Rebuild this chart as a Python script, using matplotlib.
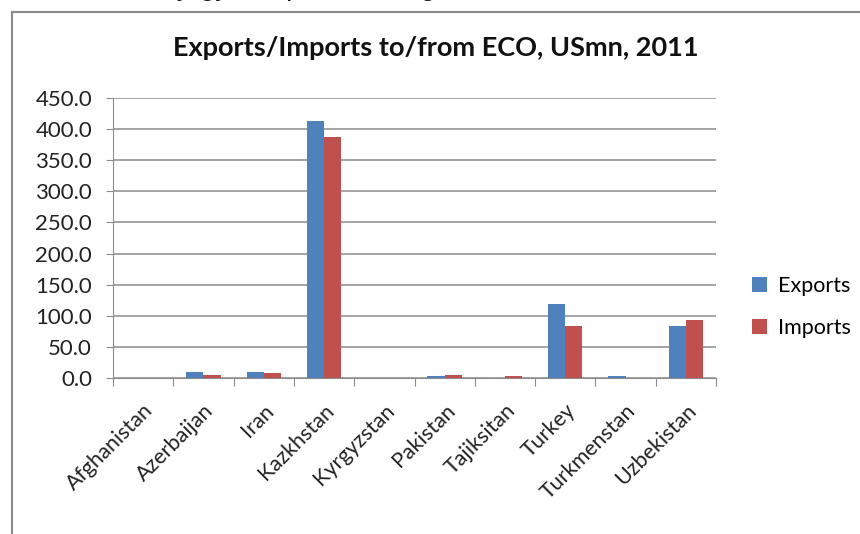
import matplotlib
matplotlib.use("Agg")
import matplotlib.pyplot as plt
import numpy as np
from matplotlib.lines import Line2D

countries = ["Afghanistan", "Azerbaijan", "Iran", "Kazkhstan", "Kyrgyzstan",
             "Pakistan", "Tajiksitan", "Turkey", "Turkmenstan", "Uzbekistan"]
exports = [0.0, 9.1, 9.2, 413.0, 0.0, 3.2, 0.0, 118.5, 2.5, 83.6]
imports = [0.0, 5.3, 7.5, 387.0, 0.0, 5.3, 3.0, 83.6, 0.0, 93.7]
yticks = [0, 50, 100, 150, 200, 250, 300, 350, 400, 450]

plt.rcParams['font.family'] = ['Lato', 'DejaVu Sans']

fig = plt.figure(figsize=(8.6, 5.34), dpi=100)
ax = fig.add_axes([113/860, 1 - 378/534, (716 - 113)/860, (378 - 98)/534])

x = np.arange(len(countries))
w = 0.286
ax.bar(x - w/2 + 0.5, exports, w, color="#4F81BD", label="Exports")
ax.bar(x + w/2 + 0.5, imports, w, color="#C0504D", label="Imports")

ax.set_xlim(0, len(countries))
ax.set_ylim(0, 450)
ax.set_yticks(yticks)
ax.set_yticklabels([f"{v:.1f}" for v in yticks], fontsize=16, color="#222222")
ax.yaxis.grid(True, color="#8c8c8c", linewidth=1.1)
ax.set_axisbelow(True)

# category boundary ticks, labels at the centres
ax.set_xticks(np.arange(len(countries) + 1))
ax.set_xticklabels([])
ax.set_xticks(x + 0.5, minor=True)
ax.set_xticklabels(countries, minor=True, rotation=45, ha="right",
                   rotation_mode="anchor", fontsize=15.5, color="#222222")
ax.tick_params(axis="x", which="minor", length=0, pad=16)
ax.tick_params(axis="x", which="major", length=6, color="#8c8c8c", direction="out")
ax.tick_params(axis="y", length=5, color="#8c8c8c", pad=10)

for s in ["top", "right"]:
    ax.spines[s].set_visible(False)
ax.spines["left"].set_color("#8c8c8c")
ax.spines["bottom"].set_color("#8c8c8c")

fig.text(0.507, 0.91, "Exports/Imports to/from ECO, USmn, 2011", ha="center", va="center",
         fontsize=19.5, fontweight="bold", color="#111111")

fig.legend(loc="center left", bbox_to_anchor=(752/860, 0.425), frameon=False,
           borderpad=0, borderaxespad=0,
           fontsize=15.5, handlelength=0.7, handleheight=0.7, labelspacing=1.0,
           handletextpad=0.5)

# caption above the chart frame, cut off at the top edge as in the source
fig.text(0.06, 1.022, "Chart 4: Kyrgyz Republic in regional trade with ECO",
         ha="left", va="center", fontsize=20, family="Liberation Sans", color="#111111")

# chart frame
fig.add_artist(Line2D([12/860, 12/860], [0, 1 - 12/534], transform=fig.transFigure,
                      color="#8a8a8a", linewidth=1.5))
fig.add_artist(Line2D([12/860, 1], [1 - 12/534, 1 - 12/534], transform=fig.transFigure,
                      color="#8a8a8a", linewidth=1.5))

fig.savefig("out.png", dpi=100)
